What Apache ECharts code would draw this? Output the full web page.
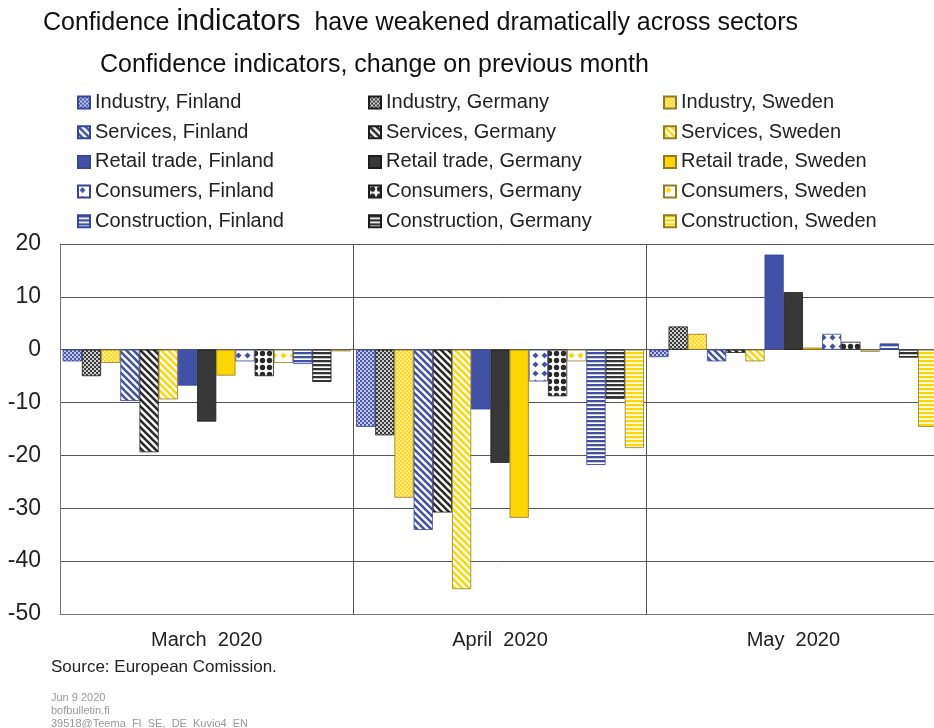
<!DOCTYPE html>
<html><head><meta charset="utf-8">
<script src="https://cdn.jsdelivr.net/npm/echarts@6/dist/echarts.min.js"></script>
<style>html,body{margin:0;padding:0;background:#fff}#c{width:934px;height:728px}</style>
</head><body><div id="c"></div>
<script>
// ---- data ----
const categories = ['March  2020', 'April  2020', 'May  2020'];
const yTicks = [-50, -40, -30, -20, -10, 0, 10, 20];

const industryFI     = [-2.2, -14.6, -1.4];
const industryDE     = [-5.0, -16.2,  4.4];
const industrySE     = [-2.5, -28.0,  3.0];
const servicesFI     = [-9.7, -34.1, -2.2];
const servicesDE     = [-19.4, -30.8, -0.6];
const servicesSE     = [-9.4, -45.3, -2.2];
const retailFI       = [-6.8, -11.3, 18.0];
const retailDE       = [-13.6, -21.4, 10.9];
const retailSE       = [-4.9, -31.8,  0.4];
const consumersFI    = [-2.2, -6.0,  3.0];
const consumersDE    = [-5.0, -8.8,  1.5];
const consumersSE    = [-2.5, -2.2, -0.4];
const constructionFI = [-2.7, -21.8,  1.2];
const constructionDE = [-6.1, -9.3, -1.5];
const constructionSE = [-0.3, -18.6, -14.6];

const namesFI = ['Industry, Finland', 'Services, Finland', 'Retail trade, Finland', 'Consumers, Finland', 'Construction, Finland'];
const namesDE = ['Industry, Germany', 'Services, Germany', 'Retail trade, Germany', 'Consumers, Germany', 'Construction, Germany'];
const namesSE = ['Industry, Sweden', 'Services, Sweden', 'Retail trade, Sweden', 'Consumers, Sweden', 'Construction, Sweden'];

// ---- styles ----
const FONT = 'Liberation Sans, Arial, sans-serif';
const COL = { FI: '#4251a8', DE: '#383838', SE: '#ffd500' };
const BORDER = { FI: '#37449a', DE: '#1c1c1c', SE: '#8f7d22' };

function tile(w, h, draw) {
  const c = document.createElement('canvas');
  c.width = w; c.height = h;
  const g = c.getContext('2d');
  draw(g, w, h);
  return { image: c, repeat: 'repeat' };
}
function finePat(bg, fg) {
  return tile(4, 4, (g) => { g.fillStyle = bg; g.fillRect(0,0,4,4); g.fillStyle = fg; g.fillRect(0,0,2,2); g.fillRect(2,2,2,2); });
}
function diagPat(fg) {
  return tile(7, 7, (g, s) => {
    g.fillStyle = '#fff'; g.fillRect(0,0,s,s);
    g.strokeStyle = fg; g.lineWidth = 2.6;
    for (const k of [-1, 0, 1]) { g.beginPath(); g.moveTo(-1, k*s - 1); g.lineTo(s+1, s + k*s + 1); g.stroke(); }
  });
}
function diamondPat(fg, p, r) {
  return tile(p, p, (g) => {
    g.fillStyle = '#fff'; g.fillRect(0,0,p,p);
    g.fillStyle = fg; const c = p/2;
    g.beginPath(); g.moveTo(c, c-r); g.lineTo(c+r, c); g.lineTo(c, c+r); g.lineTo(c-r, c); g.closePath(); g.fill();
  });
}
function dotPat(fg, p, r) {
  return tile(p, p, (g) => {
    g.fillStyle = '#fff'; g.fillRect(0,0,p,p);
    g.fillStyle = fg; g.beginPath(); g.arc(p/2, p/2, r, 0, Math.PI*2); g.fill();
  });
}
function hPat(fg) {
  return tile(4, 4, (g) => { g.fillStyle = '#fff'; g.fillRect(0,0,4,4); g.fillStyle = fg; g.fillRect(0,0,4,2.3); });
}

const seriesDefs = [
  [namesFI[0], industryFI, finePat('#c3c7ea', '#4a58b0'), 'FI'],
  [namesDE[0], industryDE, finePat('#cfcfcf', '#3a3a3a'), 'DE'],
  [namesSE[0], industrySE, finePat('#ffec80', '#ffd82a'), 'SE'],
  [namesFI[1], servicesFI, diagPat(COL.FI), 'FI'],
  [namesDE[1], servicesDE, diagPat('#2a2a2a'), 'DE'],
  [namesSE[1], servicesSE, diagPat('#ffd700'), 'SE'],
  [namesFI[2], retailFI, COL.FI, 'FI'],
  [namesDE[2], retailDE, COL.DE, 'DE'],
  [namesSE[2], retailSE, COL.SE, 'SE'],
  [namesFI[3], consumersFI, diamondPat(COL.FI, 9, 3), 'FI'],
  [namesDE[3], consumersDE, dotPat('#2a2a2a', 7, 2.7), 'DE'],
  [namesSE[3], consumersSE, diamondPat('#ffd700', 9, 3), 'SE'],
  [namesFI[4], constructionFI, hPat(COL.FI), 'FI'],
  [namesDE[4], constructionDE, hPat('#333'), 'DE'],
  [namesSE[4], constructionSE, hPat('#ffd700'), 'SE'],
];

const series = seriesDefs.map(([name, data, color, c]) => ({
  name, type: 'bar', data,
  barGap: '0%', barCategoryGap: '1.84%',
  itemStyle: { color, borderColor: BORDER[c], borderWidth: 0.8 },
  emphasis: { disabled: true }
}));

function legend(names, left) {
  return {
    orient: 'vertical', left, top: 92.5, padding: 0,
    itemWidth: 12, itemHeight: 12, itemGap: 9.7, icon: 'rect',
    textStyle: { fontFamily: FONT, fontSize: 20, lineHeight: 20, color: '#222' },
    selectedMode: false,
    data: names
  };
}

const chart = echarts.init(document.getElementById('c'));
chart.setOption({
  animation: false,
  backgroundColor: '#fff',
  title: [
    {
      left: 43, top: 7, padding: 0,
      text: '{a|Confidence }{b|indicators}{a|  have weakened dramatically across sectors}',
      textStyle: { fontWeight: 'normal', rich: {
        a: { fontFamily: FONT, fontSize: 25, fontWeight: 'normal', color: '#111', verticalAlign: 'bottom' },
        b: { fontFamily: FONT, fontSize: 29, fontWeight: 'normal', color: '#111', verticalAlign: 'bottom' }
      } }
    },
    {
      left: 100, top: 53, padding: 0,
      text: 'Confidence indicators, change on previous month',
      textStyle: { fontFamily: FONT, fontSize: 25, fontWeight: 'normal', color: '#111' }
    }
  ],
  legend: [legend(namesFI, 77), legend(namesDE, 368), legend(namesSE, 663)],
  grid: { left: 60, width: 880, top: 244, height: 370, containLabel: false, outerBoundsMode: 'none' },
  xAxis: {
    type: 'category', data: categories,
    axisLine: { onZero: false, lineStyle: { color: '#777', width: 1 } },
    axisTick: { show: false },
    splitLine: { show: true, lineStyle: { color: '#555', width: 1 } },
    axisLabel: { fontFamily: FONT, fontSize: 20, color: '#222', margin: 16 }
  },
  yAxis: {
    type: 'value', min: yTicks[0], max: yTicks[yTicks.length - 1], interval: 10,
    axisLine: { show: true, lineStyle: { color: '#777' } },
    axisTick: { show: false },
    splitLine: { lineStyle: { color: '#555', width: 1 } },
    axisLabel: { fontFamily: FONT, fontSize: 23, color: '#222', margin: 19 }
  },
  graphic: [
    { type: 'text', left: 51, top: 659, style: { text: 'Source: European Comission.', font: '17px ' + FONT, fill: '#222' } },
    { type: 'text', left: 51, top: 691, style: { text: 'Jun 9 2020\nbofbulletin.fi\n39518@Teema_FI_SE,_DE_Kuvio4_EN', font: '11px ' + FONT, fill: '#999', lineHeight: 13 } }
  ],
  series
});
</script>
</body></html>
